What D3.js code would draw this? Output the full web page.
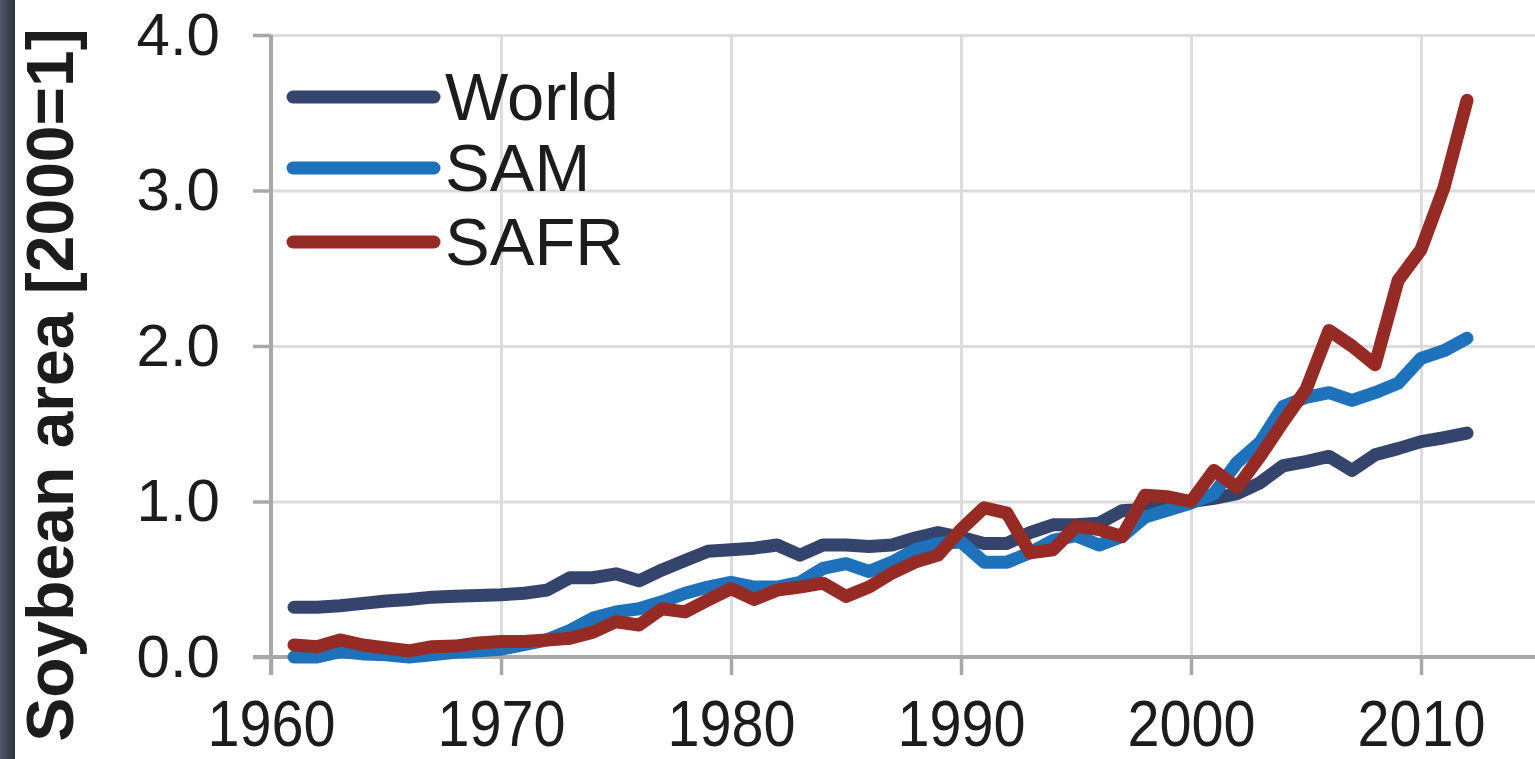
<!DOCTYPE html>
<html>
<head>
<meta charset="utf-8">
<script src="https://cdn.jsdelivr.net/npm/d3@7"></script>
<style>
  body { margin: 0; background: #fff; }
  svg { display: block; font-family: "Liberation Sans", Arial, sans-serif; }
</style>
</head>
<body>
<div id="chart"></div>
<script>
const years = d3.range(1961, 2013);

const world = [0.32, 0.32, 0.33, 0.345, 0.36, 0.37, 0.385, 0.39, 0.395, 0.40,
    0.41, 0.43, 0.51, 0.51, 0.535, 0.49, 0.56, 0.62, 0.68, 0.69,
    0.70, 0.72, 0.655, 0.72, 0.72, 0.71, 0.72, 0.765, 0.80, 0.77,
    0.73, 0.73, 0.80, 0.85, 0.85, 0.86, 0.94, 0.95, 0.97, 1.0,
    1.02, 1.05, 1.12, 1.23, 1.256, 1.29, 1.20, 1.30, 1.34, 1.385,
    1.41, 1.44];

const sam = [0.0, 0.0, 0.035, 0.02, 0.015, 0.0, 0.015, 0.03, 0.04, 0.05,
    0.08, 0.11, 0.17, 0.25, 0.29, 0.31, 0.355, 0.41, 0.45, 0.48,
    0.45, 0.45, 0.48, 0.57, 0.60, 0.55, 0.61, 0.69, 0.73, 0.74,
    0.61, 0.61, 0.67, 0.75, 0.78, 0.72, 0.775, 0.90, 0.945, 0.99,
    1.05, 1.25, 1.38, 1.61, 1.67, 1.70, 1.65, 1.70, 1.76, 1.92,
    1.97, 2.05];

const safr = [0.077, 0.066, 0.11, 0.077, 0.058, 0.04, 0.066, 0.07, 0.09, 0.10,
    0.10, 0.11, 0.12, 0.16, 0.227, 0.206, 0.31, 0.29, 0.366, 0.44,
    0.37, 0.43, 0.45, 0.475, 0.39, 0.45, 0.54, 0.61, 0.655, 0.82,
    0.96, 0.925, 0.67, 0.69, 0.84, 0.82, 0.775, 1.04, 1.03, 1.0,
    1.20, 1.09, 1.29, 1.51, 1.72, 2.10, 2.00, 1.88, 2.42, 2.62,
    3.02, 3.58];

const seriesNames = ["World", "SAM", "SAFR"];
const seriesColors = ["#34446d", "#1e72bc", "#962a25"];
const xTicks = [1960, 1970, 1980, 1990, 2000, 2010];
const yTicks = [0, 1, 2, 3, 4];

const width = 1535, height = 759;
const plotLeft = 271, plotTop = 35, plotBottom = 657, plotRight = 1536;

const svg = d3.select("#chart")
    .append("svg")
    .attr("width", width)
    .attr("height", height);

// dark strip at the left edge
const grad = svg.append("defs").append("linearGradient")
    .attr("id", "strip")
    .attr("x1", 0).attr("x2", 1).attr("y1", 0).attr("y2", 0);
grad.append("stop").attr("offset", "0%").attr("stop-color", "#525866");
grad.append("stop").attr("offset", "100%").attr("stop-color", "#2f333d");
svg.append("rect")
    .attr("x", 0).attr("y", 0)
    .attr("width", 15).attr("height", height)
    .attr("fill", "url(#strip)");

const x = d3.scaleLinear().domain([1960, 2015]).range([plotLeft, plotRight]);
const y = d3.scaleLinear().domain([0, 4]).range([plotBottom, plotTop]);

// grid
svg.append("g")
    .attr("transform", `translate(0,${plotBottom})`)
    .call(d3.axisBottom(x).tickValues(xTicks).tickSize(-(plotBottom - plotTop)).tickFormat(""))
    .call(g => g.select(".domain").remove())
    .selectAll("line")
    .attr("stroke", "#dcdcdc")
    .attr("stroke-width", 3);

svg.append("g")
    .attr("transform", `translate(${plotLeft},0)`)
    .call(d3.axisLeft(y).tickValues(yTicks).tickSize(-(plotRight - plotLeft)).tickFormat(""))
    .call(g => g.select(".domain").remove())
    .selectAll("line")
    .attr("stroke", "#dcdcdc")
    .attr("stroke-width", 3);

// axes
const yAxis = svg.append("g")
    .attr("transform", `translate(${plotLeft},0)`)
    .call(d3.axisLeft(y).tickValues(yTicks).tickSize(18).tickPadding(33)
        .tickFormat(d3.format(".1f")));
yAxis.select(".domain").remove();
yAxis.selectAll("line").attr("stroke", "#a8a8a8").attr("stroke-width", 3.5);
yAxis.selectAll("text")
    .attr("font-size", 60)
    .attr("fill", "#1c1c1c")
    .attr("font-family", "'Liberation Sans', Arial, sans-serif");

const xAxis = svg.append("g")
    .attr("transform", `translate(0,${plotBottom})`)
    .call(d3.axisBottom(x).tickValues(xTicks).tickSize(18).tickPadding(26)
        .tickFormat(d3.format("d")));
xAxis.select(".domain").remove();
xAxis.selectAll("line").attr("stroke", "#a8a8a8").attr("stroke-width", 3.5);
xAxis.selectAll("text")
    .attr("font-size", 64)
    .attr("fill", "#1c1c1c")
    .attr("transform", "scale(0.9,1)")
    .attr("font-family", "'Liberation Sans', Arial, sans-serif");

// axis lines
svg.append("line")
    .attr("x1", plotLeft).attr("x2", plotLeft)
    .attr("y1", y(4)).attr("y2", plotBottom + 18)
    .attr("stroke", "#a8a8a8").attr("stroke-width", 4);
svg.append("line")
    .attr("x1", plotLeft - 18).attr("x2", plotRight)
    .attr("y1", plotBottom).attr("y2", plotBottom)
    .attr("stroke", "#a8a8a8").attr("stroke-width", 4);

// y title
svg.append("text")
    .attr("transform", `translate(73,385) rotate(-90)`)
    .attr("text-anchor", "middle")
    .attr("font-size", 66)
    .attr("font-weight", "bold")
    .attr("fill", "#1c1c1c")
    .text("Soybean area [2000=1]");

// lines
const allSeries = [world, sam, safr];
const line = d3.line()
    .x((d, i) => x(years[i]))
    .y(d => y(d));

svg.selectAll(".series")
    .data(allSeries)
    .enter()
    .append("path")
    .attr("class", "series")
    .attr("d", d => line(d))
    .attr("fill", "none")
    .attr("stroke", (d, i) => seriesColors[i])
    .attr("stroke-width", 13)
    .attr("stroke-linejoin", "round")
    .attr("stroke-linecap", "round");

// legend
const legendY = [97, 168, 242];
const legend = svg.selectAll(".legend")
    .data(seriesNames)
    .enter()
    .append("g")
    .attr("class", "legend")
    .attr("transform", (d, i) => `translate(0,${legendY[i]})`);

legend.append("line")
    .attr("x1", 293).attr("x2", 434)
    .attr("y1", 0).attr("y2", 0)
    .attr("stroke", (d, i) => seriesColors[i])
    .attr("stroke-width", 13)
    .attr("stroke-linecap", "round");

legend.append("text")
    .attr("x", 445)
    .attr("y", 23)
    .attr("font-size", 67)
    .attr("fill", "#1c1c1c")
    .text(d => d);
</script>
</body>
</html>
